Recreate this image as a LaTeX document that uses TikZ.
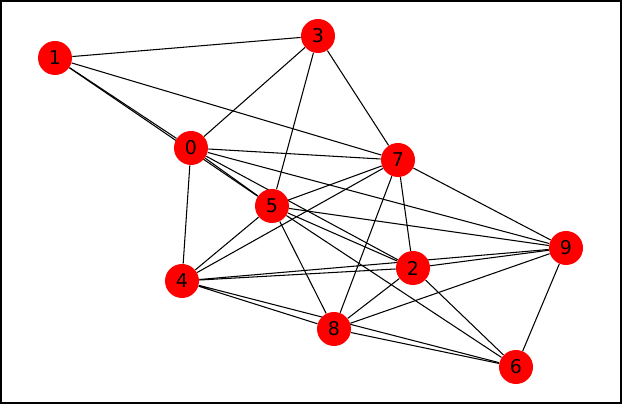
\documentclass[tikz,border=0pt]{standalone}
\usepackage{fontspec}
\setmainfont{DejaVu Sans}
\usepackage{tikz}
\usetikzlibrary{backgrounds}

\begin{document}
\begin{tikzpicture}[
x=0.02cm,y=-0.02cm,
vertex/.style={circle,fill=red,inner sep=0pt,minimum size=0.68cm,font=\fontsize{10.8}{13}\selectfont},
edge/.style={black,line width=0.6pt}
]
\useasboundingbox (0,0) rectangle (622,404);
\draw[line width=0.9pt] (1,1) rectangle (621,403);
\node[vertex] (n0) at (191,148) {0};
\node[vertex] (n1) at (55,58) {1};
\node[vertex] (n2) at (413,268) {2};
\node[vertex] (n3) at (318,36) {3};
\node[vertex] (n4) at (182,281) {4};
\node[vertex] (n5) at (272,206) {5};
\node[vertex] (n6) at (516,367) {6};
\node[vertex] (n7) at (398,160) {7};
\node[vertex] (n8) at (334,329) {8};
\node[vertex] (n9) at (566,248) {9};
\begin{scope}[on background layer]
\draw[edge] (n0)--(n1) (n0)--(n3) (n0)--(n4) (n0)--(n5) (n0)--(n7) (n0)--(n9) (n0)--(n2);
\draw[edge] (n1)--(n3) (n1)--(n7) (n1)--(n5);
\draw[edge] (n2)--(n7) (n2)--(n5) (n2)--(n4) (n2)--(n9) (n2)--(n8) (n2)--(n6);
\draw[edge] (n3)--(n5) (n3)--(n7);
\draw[edge] (n4)--(n5) (n4)--(n7) (n4)--(n9) (n4)--(n8) (n4)--(n6);
\draw[edge] (n5)--(n7) (n5)--(n9) (n5)--(n8) (n5)--(n6);
\draw[edge] (n6)--(n8) (n6)--(n9);
\draw[edge] (n7)--(n8) (n7)--(n9);
\draw[edge] (n8)--(n9);
\end{scope}
\end{tikzpicture}
\end{document}
